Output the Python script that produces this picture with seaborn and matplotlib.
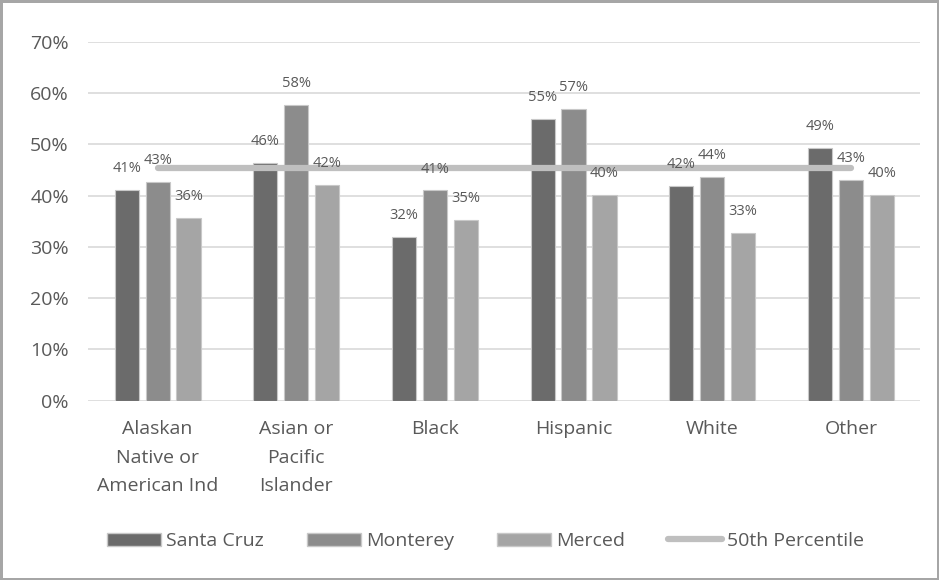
import pandas as pd
import numpy as np
import matplotlib
matplotlib.use("Agg")
import matplotlib.pyplot as plt
import seaborn as sns
from matplotlib.lines import Line2D
from matplotlib.ticker import FuncFormatter

# data (percent)
categories = ["Alaskan\nNative or\nAmerican Ind", "Asian or\nPacific\nIslander", "Black",
              "Hispanic", "White", "Other"]
santa_cruz = [41.1, 46.4, 32.0, 54.9, 41.9, 49.3]
monterey = [42.7, 57.7, 41.0, 56.9, 43.6, 43.1]
merced = [35.7, 42.1, 35.3, 40.2, 32.8, 40.2]
percentile_50 = [45.3, 45.3, 45.3, 45.3, 45.3, 45.3]
series_names = ["Santa Cruz", "Monterey", "Merced"]
colors = ["#6b6b6b", "#8c8c8c", "#a5a5a5"]

df = pd.DataFrame({
    "Group": categories * 3,
    "County": [n for n in series_names for _ in categories],
    "Value": santa_cruz + monterey + merced,
})

sns.set_theme(style="white")
plt.rcParams["font.family"] = ["Open Sans", "DejaVu Sans"]
text_col = "#595959"

fig = plt.figure(figsize=(9.39, 5.8), dpi=100)
fig.patch.set_edgecolor("#a6a6a6")
fig.patch.set_linewidth(2.5)
ax = fig.add_axes([0.094, 0.309, 0.886, 0.619])

sns.barplot(data=df, x="Group", y="Value", hue="County", palette=colors,
            width=0.67, gap=0.22, edgecolor="#c8c8c8", linewidth=0.8,
            legend=False, ax=ax)

# 50th percentile line
ax.plot(np.arange(len(categories)), percentile_50, color="#bfbfbf", lw=4.5,
        solid_capstyle="round", zorder=4)

for cont in ax.containers:
    txts = ax.bar_label(cont, labels=[f"{v:.0f}%" for v in cont.datavalues],
                        padding=10, fontsize=10.5, color=text_col)
    for t in txts:
        t.set_zorder(6)

ax.set_ylim(0, 70)
ax.set_yticks(range(0, 71, 10))
ax.yaxis.set_major_formatter(FuncFormatter(lambda v, p: f"{v:.0f}%"))
ax.yaxis.grid(True, color="#d9d9d9", lw=1.2)
ax.set_axisbelow(True)
for s in ax.spines.values():
    s.set_visible(False)
ax.set_xlabel("")
ax.set_ylabel("")
ax.tick_params(axis="both", labelsize=14, colors=text_col, length=0)
ax.tick_params(axis="x", pad=14)
ax.tick_params(axis="y", pad=14)
for lbl in ax.get_xticklabels():
    lbl.set_linespacing(1.75)
ax.set_xlim(-0.5, len(categories) - 0.5)

handles = [plt.Rectangle((0, 0), 1, 1, fc=c, ec="#c8c8c8") for c in colors]
handles.append(Line2D([0], [0], color="#bfbfbf", lw=4.5, solid_capstyle="round"))
fig.legend(handles, series_names + ["50th Percentile"], loc="center",
           bbox_to_anchor=(0.517, 0.067), ncol=4, frameon=False,
           fontsize=14, labelcolor=text_col, handlelength=2.8, handleheight=0.65,
           columnspacing=2.2, handletextpad=0.25)

fig.savefig("out.png", dpi=100)
